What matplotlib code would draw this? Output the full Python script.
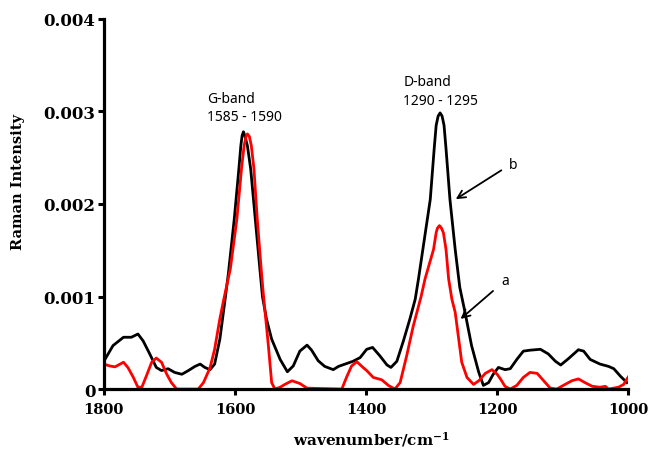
import matplotlib
matplotlib.use("Agg")
import matplotlib.pyplot as plt

# spectrum b (black)
wn_b = [1800, 1786, 1770, 1758, 1748, 1740, 1730, 1720, 1712, 1702, 1692, 1681,
        1671, 1661, 1653, 1646, 1638, 1631, 1623, 1615, 1610, 1601, 1594, 1591,
        1589, 1587, 1585, 1581, 1576, 1569, 1562, 1558, 1552, 1544, 1531, 1520,
        1511, 1501, 1490, 1483, 1473, 1463, 1450, 1442, 1432, 1420, 1409, 1399,
        1390, 1379, 1368, 1362, 1353, 1343, 1333, 1325, 1320, 1302, 1296, 1293,
        1290, 1287, 1284, 1281, 1278, 1272, 1264, 1257, 1249, 1239, 1228, 1221,
        1213, 1206, 1198, 1188, 1180, 1170, 1160, 1150, 1134, 1122, 1111, 1103,
        1091, 1076, 1068, 1058, 1043, 1030, 1022, 1012, 1002]
int_b = [0.00030, 0.00047, 0.00056, 0.00056, 0.000595, 0.00052, 0.00038, 0.000234,
         0.00020, 0.00022, 0.00018, 0.00016, 0.00020, 0.000245, 0.00027, 0.000234,
         0.00021, 0.00027, 0.00054, 0.00097, 0.00125, 0.00184, 0.00238, 0.00263,
         0.00274, 0.00278, 0.00274, 0.00263, 0.00238, 0.00184, 0.00130, 0.00100,
         0.00076, 0.00054, 0.00032, 0.000187, 0.00025, 0.00041, 0.000475, 0.00042,
         0.000306, 0.000245, 0.00021, 0.000245, 0.00027, 0.00030, 0.00034, 0.00043,
         0.00045, 0.00036, 0.00026, 0.000234, 0.00030, 0.00052, 0.00076, 0.00097,
         0.00119, 0.00205, 0.00260, 0.00285, 0.00295, 0.002984, 0.00295, 0.00285,
         0.00260, 0.00205, 0.00151, 0.00110, 0.00083, 0.00047, 0.00018, 0.00004,
         0.00007, 0.00016, 0.000234, 0.00021, 0.00022, 0.00032, 0.00041, 0.00042,
         0.00043, 0.00038, 0.00030, 0.00026, 0.00033, 0.000425, 0.00041, 0.00032,
         0.00027, 0.000245, 0.00022, 0.00014, 0.00007]

# spectrum a (red)
wn_a = [1800, 1791, 1783, 1770, 1763, 1755, 1748, 1742, 1735, 1727, 1720, 1712,
        1704, 1697, 1689, 1656, 1648, 1638, 1631, 1623, 1617, 1607, 1597, 1590,
        1586, 1583, 1581, 1578, 1575, 1571, 1566, 1560, 1557, 1549, 1544, 1539,
        1531, 1524, 1513, 1501, 1490, 1437, 1429, 1422, 1414, 1404, 1399, 1389,
        1376, 1366, 1356, 1348, 1338, 1328, 1316, 1310, 1297, 1293, 1291, 1288,
        1285, 1282, 1278, 1274, 1269, 1264, 1259, 1254, 1246, 1236, 1228, 1218,
        1208, 1200, 1195, 1188, 1180, 1170, 1160, 1150, 1139, 1129, 1119, 1109,
        1099, 1086, 1076, 1066, 1055, 1043, 1035, 1030, 1015, 1007, 1000]
int_a = [0.00027, 0.00025, 0.00024, 0.00029, 0.00023, 0.000126, 0.00002, 0.00002,
         0.000144, 0.00029, 0.000335, 0.00029, 0.00016, 0.00007, 0.0, 0.0,
         0.00007, 0.00023, 0.00043, 0.00076, 0.00097, 0.00130, 0.00184, 0.00238,
         0.00263, 0.00273, 0.002757, 0.00273, 0.00263, 0.00238, 0.00184, 0.00130,
         0.00105, 0.00047, 0.00007, 0.0, 0.00002, 0.00005, 0.00009, 0.00006,
         0.00001, 0.0, 0.00014, 0.00025, 0.000295, 0.00023, 0.00020, 0.000126,
         0.00010, 0.00004, 0.0, 0.00007, 0.00036, 0.00068, 0.00100, 0.00119,
         0.00151, 0.00169, 0.00174, 0.001766, 0.00174, 0.00169, 0.00151, 0.00119,
         0.00097, 0.00083, 0.00056, 0.00029, 0.000126, 0.00005, 0.00009, 0.00017,
         0.00021, 0.00016, 0.00011, 0.00003, 0.0, 0.00004, 0.000126, 0.00018,
         0.00017, 0.00009, 0.00001, 0.0, 0.00004, 0.00009, 0.00011, 0.00007,
         0.00003, 0.00002, 0.00003, 0.0, 0.00002, 0.00005, 0.00013]

x_ticks = [1800, 1600, 1400, 1200, 1000]
y_ticks = [0, 0.001, 0.002, 0.003, 0.004]
y_tick_labels = ["0", "0.001", "0.002", "0.003", "0.004"]

plt.rcParams['mathtext.fontset'] = 'dejavuserif'

fig = plt.figure(figsize=(6.49, 4.52), dpi=100)
ax = fig.add_axes([0.160, 0.137, 0.808, 0.819])

ax.plot(wn_b, int_b, color='black', lw=2.0, solid_joinstyle='round')
ax.plot(wn_a, int_a, color='#ff0000', lw=2.0, solid_joinstyle='round')

ax.set_xlim(1800, 1000)
ax.set_ylim(0, 0.004)
ax.set_xticks(x_ticks)
ax.set_yticks(y_ticks)
ax.set_yticklabels(y_tick_labels)

for s in ['top', 'right']:
    ax.spines[s].set_visible(False)
for s in ['left', 'bottom']:
    ax.spines[s].set_linewidth(2.3)

ax.tick_params(direction='out', length=4, width=2.2, pad=5)
ax.tick_params(axis='y', pad=2)
for lab in ax.get_yticklabels():
    lab.set_fontfamily('DejaVu Serif')
    lab.set_fontweight('bold')
    lab.set_fontsize(12)
for lab in ax.get_xticklabels():
    lab.set_fontfamily('DejaVu Serif')
    lab.set_fontweight('bold')
    lab.set_fontsize(10.5)

fig.text(0.028, 0.597, "Raman Intensity", rotation=90, ha='center', va='center',
         family='DejaVu Serif', fontweight='bold', fontsize=10.5)
fig.text(0.573, 0.027, r"wavenumber/cm$^{\mathbf{-1}}$", ha='center', va='center',
         family='DejaVu Serif', fontweight='bold', fontsize=11)

band_font = dict(family='Noto Sans', fontsize=10, ha='left', va='center')
ax.text(1643, 0.003135, "G-band", **band_font)
ax.text(1643, 0.00294, "1585 - 1590", **band_font)
ax.text(1343, 0.00332, "D-band", **band_font)
ax.text(1343, 0.00312, "1290 - 1295", **band_font)

arrow = dict(arrowstyle='->', color='black', lw=1.3, mutation_scale=14)
ax.annotate("", xy=(1266.7, 0.002036), xytext=(1190, 0.00238), arrowprops=arrow)
ax.annotate("", xy=(1259, 0.000738), xytext=(1203, 0.00108), arrowprops=arrow)
ax.text(1176, 0.00243, "b", family='Noto Sans', fontweight='bold', fontsize=10,
        ha='center', va='center')
ax.text(1188, 0.00117, "a", family='Noto Sans', fontweight='bold', fontsize=10,
        ha='center', va='center')

fig.savefig("out.png", dpi=100)
